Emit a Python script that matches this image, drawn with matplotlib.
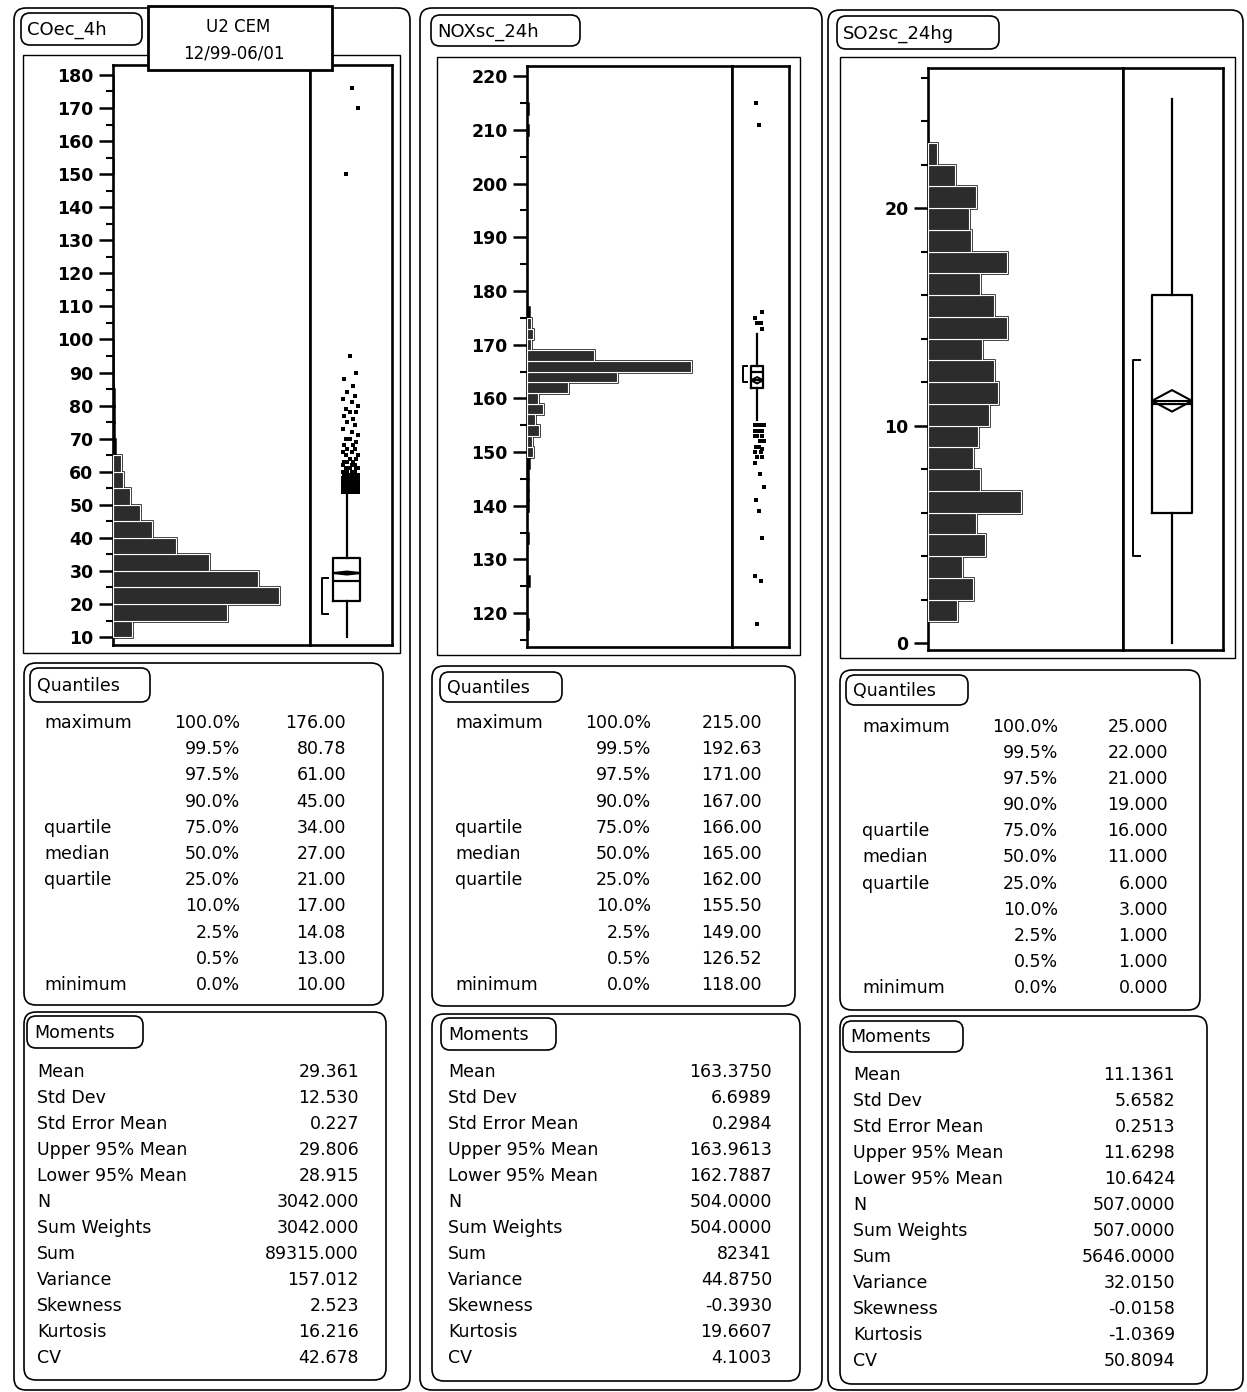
import matplotlib
matplotlib.use('Agg')
import matplotlib.pyplot as plt
import numpy as np
from matplotlib.patches import FancyBboxPatch, Rectangle, Polygon
from matplotlib.ticker import MultipleLocator

# ---- table data ----
q_names = ['maximum', '', '', '', 'quartile', 'median', 'quartile', '', '', '', 'minimum']
q_pcts = ['100.0%', '99.5%', '97.5%', '90.0%', '75.0%', '50.0%', '25.0%', '10.0%', '2.5%', '0.5%', '0.0%']
m_names = ['Mean', 'Std Dev', 'Std Error Mean', 'Upper 95% Mean', 'Lower 95% Mean', 'N',
           'Sum Weights', 'Sum', 'Variance', 'Skewness', 'Kurtosis', 'CV']

co_quant = [176.00, 80.78, 61.00, 45.00, 34.00, 27.00, 21.00, 17.00, 14.08, 13.00, 10.00]
nox_quant = [215.00, 192.63, 171.00, 167.00, 166.00, 165.00, 162.00, 155.50, 149.00, 126.52, 118.00]
so2_quant = [25.0, 22.0, 21.0, 19.0, 16.0, 11.0, 6.0, 3.0, 1.0, 1.0, 0.0]

co_mom = ['29.361', '12.530', '0.227', '29.806', '28.915', '3042.000', '3042.000',
          '89315.000', '157.012', '2.523', '16.216', '42.678']
nox_mom = ['163.3750', '6.6989', '0.2984', '163.9613', '162.7887', '504.0000', '504.0000',
           '82341', '44.8750', '-0.3930', '19.6607', '4.1003']
so2_mom = ['11.1361', '5.6582', '0.2513', '11.6298', '10.6424', '507.0000', '507.0000',
           '5646.0000', '32.0150', '-0.0158', '-1.0369', '50.8094']

# ---- histogram data (bin lower edges, counts) ----
co_bins = [10, 15, 20, 25, 30, 35, 40, 45, 50, 55, 60, 65, 70, 75, 80, 85, 90, 95, 150, 170, 175]
co_counts = [82, 491, 715, 625, 414, 272, 168, 116, 73, 43, 34, 9, 4, 5, 5, 1, 2, 1, 1, 1, 1]
nox_bins = [117, 125, 133, 139, 141, 143, 145, 147, 149, 151, 153, 155, 157, 159, 161, 163,
            165, 167, 169, 171, 173, 175, 209, 213]
nox_counts = [1, 2, 1, 1, 1, 1, 1, 2, 7, 6, 13, 9, 18, 12, 46, 100, 183, 75, 4, 7, 4, 2, 1, 1]
so2_bins = list(range(1, 23))
so2_counts = [13, 20, 15, 25, 21, 41, 23, 20, 22, 27, 31, 29, 24, 35, 29, 23, 35, 19, 18, 21, 12, 4]

# ---- box plot data ----
co_whis = (10, 53)
nox_whis = (156, 172)
so2_whis = (0, 25)
co_half = (17, 28)
nox_half = (163, 166)
so2_half = (4, 13)
co_out_vals = [54, 55, 56, 57, 58, 59, 60, 61, 62, 63, 64, 65, 66, 67, 68, 69, 70, 71, 72, 73, 74,
               75, 76, 77, 78, 79, 80, 81, 82, 83, 84, 86, 88, 90, 95, 150, 170, 176]
co_out_cnts = [10, 10, 10, 10, 9, 8, 6, 4, 3, 3, 2, 2, 2, 2, 2, 1, 2, 1, 1, 1, 1,
               1, 1, 1, 2, 1, 1, 1, 1, 1, 1, 1, 1, 1, 1, 1, 1, 1]
nox_out_vals = [118, 126, 127, 134, 139, 141, 143.5, 146, 148, 149, 150, 150.5, 151, 152, 153,
                154, 155, 173, 174, 175, 176, 211, 215]
nox_out_cnts = [1, 1, 1, 1, 1, 1, 1, 1, 1, 2, 2, 1, 2, 2, 3, 4, 4, 1, 2, 1, 1, 1, 1]

W, H = 1247, 1392
plt.rcParams['font.family'] = ['DejaVu Sans']
fig = plt.figure(figsize=(W / 100, H / 100), dpi=100)

bg = fig.add_axes([0, 0, 1, 1])
bg.set_xlim(0, W)
bg.set_ylim(H, 0)
bg.axis('off')


def rbox(ax, x0, y0, x1, y1, r=10, lw=1.2):
    ax.add_patch(FancyBboxPatch((x0, y0), x1 - x0, y1 - y0,
                                boxstyle=f"round,pad=0,rounding_size={r}",
                                fc='white', ec='black', lw=lw))


def px_axes(x0, y0, x1, y1, **kw):
    return fig.add_axes([x0 / W, 1 - y1 / H, (x1 - x0) / W, (y1 - y0) / H], **kw)


FS = 12.5
JITTER = [0, 6, -3, 9, 3, -1, 11, 5, -4, 8]

# column layout: panel, title box, frame, hist/box axes, tables
cols = [
    dict(panel=(14, 8, 410, 1390), tbox=(21, 13, 142, 45), title='COec_4h',
         frame=(23, 55, 400, 653), ax=(113, 65, 310, 392, 645), ylim=(7.6, 183),
         major=10, minor=5, xmax=848, binw=5, bins=co_bins, counts=co_counts,
         quant=co_quant, qfmt='%.2f', mom=co_mom, whis=co_whis, half=co_half,
         center=0.45, bw=0.33, hx=0.15, outv=co_out_vals, outc=co_out_cnts, jit=1.0,
         qbox=(24, 663, 383, 1005), qtbox=(30, 668, 150, 702),
         qrow=(722, 984), qx=(44, 240, 346),
         mbox=(24, 1012, 386, 1380), mtbox=(27, 1016, 143, 1048),
         mrow=(1071, 1357), mx=(37, 359)),
    dict(panel=(420, 8, 822, 1390), tbox=(431, 15, 580, 46), title='NOXsc_24h',
         frame=(437, 57, 800, 655), ax=(527, 66, 732, 789, 647), ylim=(113.7, 221.9),
         major=10, minor=5, xmax=229, binw=2, bins=nox_bins, counts=nox_counts,
         quant=nox_quant, qfmt='%.2f', mom=nox_mom, whis=nox_whis, half=nox_half,
         center=0.44, bw=0.21, hx=0.19, outv=nox_out_vals, outc=nox_out_cnts, jit=0.6,
         qbox=(432, 666, 795, 1006), qtbox=(440, 672, 562, 702),
         qrow=(722, 984), qx=(455, 651, 762),
         mbox=(432, 1014, 800, 1381), mtbox=(441, 1018, 556, 1050),
         mrow=(1071, 1357), mx=(448, 772)),
    dict(panel=(828, 10, 1243, 1390), tbox=(837, 16, 999, 49), title='SO2sc_24hg',
         frame=(840, 57, 1235, 658), ax=(928, 68, 1123, 1223, 650), ylim=(-0.32, 26.44),
         major=10, minor=2, xmax=86, binw=1, bins=so2_bins, counts=so2_counts,
         quant=so2_quant, qfmt='%.3f', mom=so2_mom, whis=so2_whis, half=so2_half,
         center=0.49, bw=0.40, hx=0.10, outv=[], outc=[], jit=1.0,
         qbox=(840, 670, 1200, 1010), qtbox=(846, 675, 968, 705),
         qrow=(726, 987), qx=(862, 1058, 1168),
         mbox=(840, 1016, 1207, 1384), mtbox=(843, 1021, 963, 1052),
         mrow=(1074, 1360), mx=(853, 1175)),
]

for c in cols:
    rbox(bg, *c['panel'], r=12, lw=1.2)
    rbox(bg, *c['tbox'], r=9, lw=1.2)
    bg.text(c['tbox'][0] + 6, (c['tbox'][1] + c['tbox'][3]) / 2 + 6, c['title'],
            fontsize=13, va='baseline', ha='left')
    fx0, fy0, fx1, fy1 = c['frame']
    bg.add_patch(Rectangle((fx0, fy0), fx1 - fx0, fy1 - fy0, fc='white', ec='black', lw=1.0))

    # quantiles table
    rbox(bg, *c['qbox'], r=12, lw=1.2)
    rbox(bg, *c['qtbox'], r=9, lw=1.2)
    bg.text(c['qtbox'][0] + 7, (c['qtbox'][1] + c['qtbox'][3]) / 2 + 6, 'Quantiles',
            fontsize=FS, va='baseline')
    ys = np.linspace(c['qrow'][0], c['qrow'][1], len(q_pcts))
    for y, nm, pc, v in zip(ys, q_names, q_pcts, c['quant']):
        bg.text(c['qx'][0], y + 6, nm, fontsize=FS, va='baseline', ha='left')
        bg.text(c['qx'][1], y + 6, pc, fontsize=FS, va='baseline', ha='right')
        bg.text(c['qx'][2], y + 6, c['qfmt'] % v, fontsize=FS, va='baseline', ha='right')

    # moments table
    rbox(bg, *c['mbox'], r=12, lw=1.2)
    rbox(bg, *c['mtbox'], r=9, lw=1.2)
    bg.text(c['mtbox'][0] + 7, (c['mtbox'][1] + c['mtbox'][3]) / 2 + 6, 'Moments',
            fontsize=FS, va='baseline')
    ys = np.linspace(c['mrow'][0], c['mrow'][1], len(m_names))
    for y, nm, v in zip(ys, m_names, c['mom']):
        bg.text(c['mx'][0], y + 6, nm, fontsize=FS, va='baseline', ha='left')
        bg.text(c['mx'][1], y + 6, v, fontsize=FS, va='baseline', ha='right')

    # histogram + box plot axes
    x0, y0, xd, x1, y1 = c['ax']
    ha = px_axes(x0, y0, xd, y1)
    hb = px_axes(xd, y0, x1, y1, sharey=ha)
    for a in (ha, hb):
        for s in a.spines.values():
            s.set_linewidth(1.9)
    ha.set_ylim(*c['ylim'])
    ha.set_xlim(0, c['xmax'])
    ha.set_xticks([])
    ha.yaxis.set_major_locator(MultipleLocator(c['major']))
    ha.yaxis.set_minor_locator(MultipleLocator(c['minor']))
    ha.tick_params(axis='y', which='major', direction='out', length=10, width=1.8,
                   labelsize=12.5, pad=4)
    ha.tick_params(axis='y', which='minor', direction='out', length=5, width=1.5)
    for lab in ha.get_yticklabels():
        lab.set_fontweight('bold')

    # bars: black outline, white inner rim (only where the bar is wide enough to show it)
    counts = np.array(c['counts'])
    bins = np.array(c['bins'])
    ha.barh(bins, counts, height=c['binw'], align='edge',
            color='#2c2c2c', edgecolor='black', linewidth=1.8, zorder=2)
    wide = counts > c['xmax'] * 0.012
    ha.barh(bins[wide], counts[wide], height=c['binw'], align='edge',
            color='#2c2c2c', edgecolor='white', linewidth=0.8, zorder=3)

    hb.set_xlim(0, 1)
    hb.set_xticks([])
    hb.tick_params(axis='y', which='both', left=False, labelleft=False)

    q = c['quant']
    stats = [dict(med=q[5], q1=q[6], q3=q[4], whislo=c['whis'][0], whishi=c['whis'][1], fliers=[])]
    hb.bxp(stats, positions=[c['center']], widths=c['bw'], showcaps=False, showfliers=False,
           boxprops=dict(lw=1.6, color='black'), whiskerprops=dict(lw=1.6, color='black'),
           medianprops=dict(lw=1.6, color='black'), manage_ticks=False)

    mean, upper, lower = float(c['mom'][0]), float(c['mom'][3]), float(c['mom'][4])
    cx, hw = c['center'], c['bw'] / 2
    hb.add_patch(Polygon([(cx - hw, mean), (cx, upper), (cx + hw, mean), (cx, lower)],
                         closed=True, fc='none', ec='black', lw=1.5))
    hb.plot([cx - hw, cx + hw], [mean, mean], color='black', lw=1.5)

    # shortest half bracket
    bx = c['hx']
    lo, hi = c['half']
    hb.plot([bx + 0.07, bx, bx, bx + 0.07], [lo, lo, hi, hi], color='black', lw=1.4)

    # outliers with jitter
    if c['outv']:
        vals = np.repeat(c['outv'], c['outc'])
        axw = x1 - xd
        offs = [cx + JITTER[i % len(JITTER)] * c['jit'] / axw for i in range(len(vals))]
        hb.scatter(offs, vals, marker='s', s=5, color='black', lw=0, zorder=4)

# overlay header box
ov = fig.add_axes([0, 0, 1, 1])
ov.patch.set_alpha(0)
ov.set_xlim(0, W)
ov.set_ylim(H, 0)
ov.axis('off')
ov.add_patch(Rectangle((148, 6), 184, 64, fc='white', ec='black', lw=2.0))
ov.text(238, 27, 'U2 CEM', fontsize=12, ha='center', va='center')
ov.text(234, 54, '12/99-06/01', fontsize=12, ha='center', va='center')

fig.savefig('out.png', dpi=100)
